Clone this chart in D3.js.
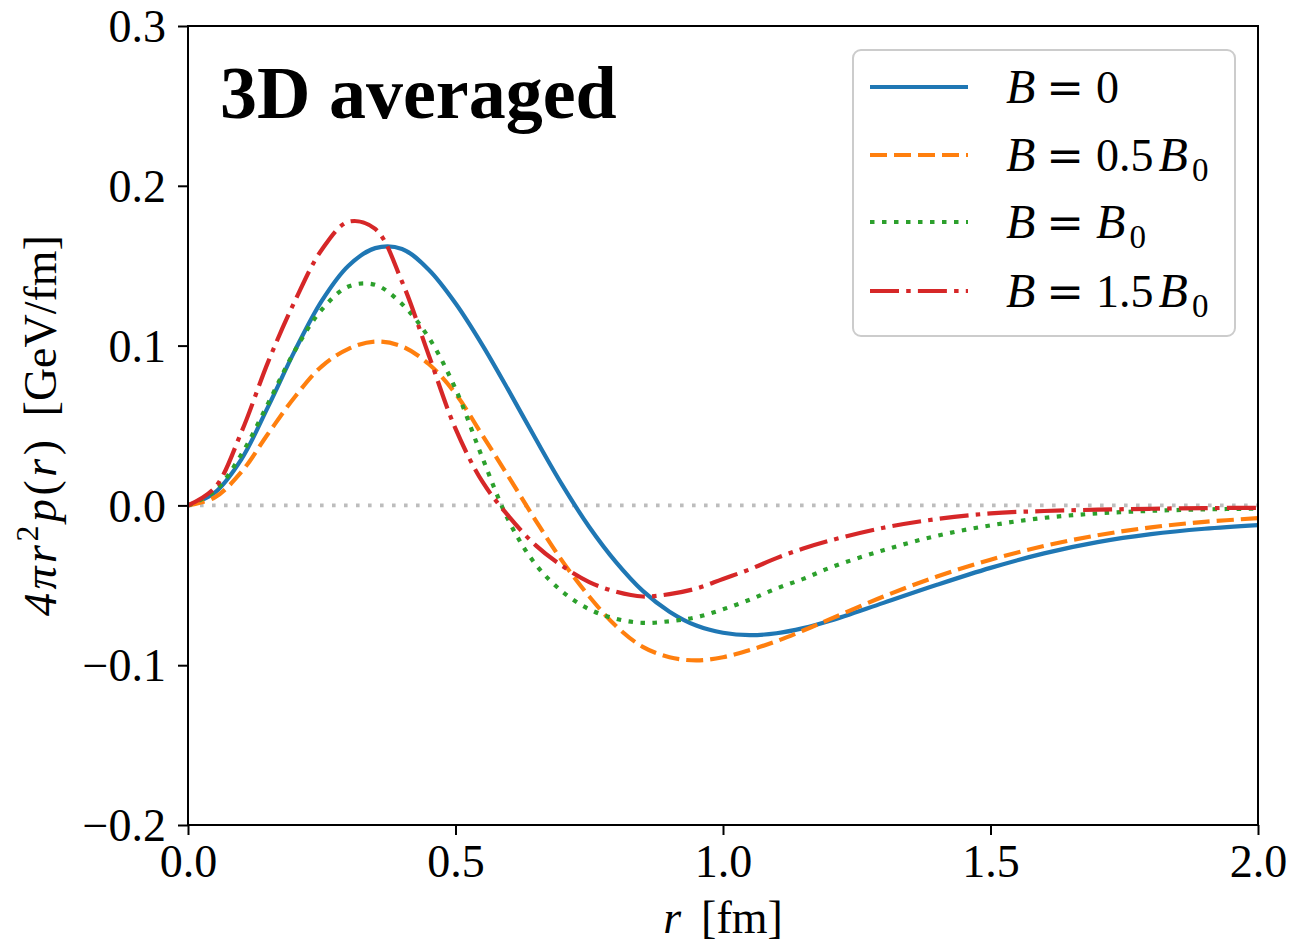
<!DOCTYPE html>
<html>
<head>
<meta charset="utf-8">
<script src="https://cdn.jsdelivr.net/npm/d3@7"></script>
<style>
  body { margin: 0; background: white; }
  text { font-family: "Liberation Serif", "DejaVu Serif", serif; }
</style>
</head>
<body>
<script>
// radius grid (fm)
const rGrid = [0, 0.05, 0.1, 0.15, 0.2, 0.25, 0.3, 0.35, 0.4, 0.45, 0.5, 0.55, 0.6, 0.65, 0.7,
  0.75, 0.8, 0.85, 0.9, 0.95, 1.0, 1.05, 1.1, 1.15, 1.2, 1.3, 1.4, 1.5, 1.6, 1.7, 1.8, 1.9, 2.0];

// 4 pi r^2 p(r) [GeV/fm]
const pB0 = [0, 0.008, 0.029, 0.062, 0.097, 0.128, 0.150, 0.161, 0.1605, 0.1475, 0.1265, 0.1005, 0.0715,
  0.0415, 0.0125, -0.0135, -0.0355, -0.0535, -0.0665, -0.0752, -0.0797, -0.0812, -0.0800, -0.0768, -0.0722,
  -0.0610, -0.0497, -0.0391, -0.0300, -0.0230, -0.0180, -0.0146, -0.0123];
const pB05 = [0, 0.005, 0.021, 0.045, 0.068, 0.087, 0.098, 0.1025, 0.0995, 0.0885, 0.070, 0.044, 0.0175,
  -0.0095, -0.035, -0.057, -0.0755, -0.0885, -0.0950, -0.0970, -0.0950, -0.0905, -0.0850, -0.0783, -0.0712,
  -0.0570, -0.0445, -0.0340, -0.0254, -0.0187, -0.0137, -0.0103, -0.0080];
const pB1 = [0, 0.009, 0.032, 0.064, 0.097, 0.1225, 0.137, 0.138, 0.126, 0.105, 0.073, 0.030, -0.010,
  -0.037, -0.054, -0.065, -0.071, -0.0735, -0.0725, -0.070, -0.065, -0.059, -0.052, -0.046, -0.039,
  -0.028, -0.019, -0.0125, -0.0078, -0.0050, -0.0034, -0.0025, -0.0020];
const pB15 = [0, 0.011, 0.046, 0.090, 0.128, 0.160, 0.1775, 0.173, 0.140, 0.094, 0.048, 0.015, -0.007,
  -0.025, -0.038, -0.048, -0.054, -0.057, -0.0555, -0.052, -0.046, -0.040, -0.033, -0.027, -0.022,
  -0.014, -0.0085, -0.0050, -0.0035, -0.0027, -0.0021, -0.0017, -0.0015];

const xTicks = [0, 0.5, 1.0, 1.5, 2.0];
const yTicks = [-0.2, -0.1, 0.0, 0.1, 0.2, 0.3];

const series = [
  { vals: pB0, color: '#1f77b4', dash: null, label: ['0'] },
  { vals: pB05, color: '#ff7f0e', dash: '17,7', label: ['0.5', 'B', '0'] },
  { vals: pB1, color: '#2ca02c', dash: '4.5,7.5', label: ['', 'B', '0'] },
  { vals: pB15, color: '#d62728', dash: '29,7.2,4.5,7.2', label: ['1.5', 'B', '0'] }
];

const width = 1292;
const height = 945;
const margin = { top: 26, right: 34, bottom: 120, left: 188 };

const svg = d3.select('body')
  .append('svg')
  .attr('width', width)
  .attr('height', height);

const x = d3.scaleLinear()
  .domain([0, 2])
  .range([margin.left, width - margin.right]);

const y = d3.scaleLinear()
  .domain([-0.2, 0.3])
  .range([height - margin.bottom, margin.top]);

// zero reference line
svg.append('line')
  .attr('x1', x(0))
  .attr('x2', x(2))
  .attr('y1', y(0))
  .attr('y2', y(0))
  .attr('stroke', '#bdbdbd')
  .attr('stroke-width', 3.6)
  .attr('stroke-dasharray', '3.6,8.4');

svg.append('clipPath')
  .attr('id', 'clip')
  .append('rect')
  .attr('x', x(0))
  .attr('y', y(0.3))
  .attr('width', x(2) - x(0))
  .attr('height', y(-0.2) - y(0.3));

const line = d3.line()
  .x((d, i) => x(rGrid[i]))
  .y((d) => y(d))
  .curve(d3.curveCatmullRom.alpha(0.5));

const lines = svg.append('g').attr('clip-path', 'url(#clip)');

series.forEach((s) => {
  lines.append('path')
    .datum(s.vals)
    .attr('d', line)
    .attr('fill', 'none')
    .attr('stroke', s.color)
    .attr('stroke-width', 4.2)
    .attr('stroke-dasharray', s.dash)
    .attr('stroke-linejoin', 'round');
});

// axes
const xAxis = svg.append('g')
  .attr('transform', `translate(0, ${y(-0.2)})`)
  .call(d3.axisBottom(x).tickValues(xTicks).tickFormat(d3.format('.1f')).tickSizeInner(10).tickSizeOuter(0).tickPadding(10));

const yAxis = svg.append('g')
  .attr('transform', `translate(${x(0)}, 0)`)
  .call(d3.axisLeft(y).tickValues(yTicks).tickFormat((d) => d3.format('.1f')(d).replace('-', '\u2212')).tickSizeInner(10).tickSizeOuter(0).tickPadding(12));

[xAxis, yAxis].forEach((g) => {
  g.selectAll('text')
    .attr('font-size', 46)
    .attr('font-family', '"Liberation Serif", serif')
    .attr('fill', 'black');
  g.selectAll('line')
    .attr('stroke', 'black')
    .attr('stroke-width', 2);
  g.select('.domain').remove();
});

xAxis.selectAll('text').attr('dy', '0.7em');
yAxis.selectAll('text').attr('dy', '0.34em');

// frame
svg.append('rect')
  .attr('x', x(0))
  .attr('y', y(0.3))
  .attr('width', x(2) - x(0))
  .attr('height', y(-0.2) - y(0.3))
  .attr('fill', 'none')
  .attr('stroke', 'black')
  .attr('stroke-width', 2);

// title
svg.append('text')
  .attr('x', 220)
  .attr('y', 118)
  .attr('font-size', 74)
  .attr('font-weight', 'bold')
  .text('3D averaged');

// x label
const xLab = svg.append('text')
  .attr('x', (x(0) + x(2)) / 2)
  .attr('y', 933)
  .attr('font-size', 46)
  .style('text-anchor', 'middle');
xLab.append('tspan').attr('font-style', 'italic').text('r');
xLab.append('tspan').attr('dx', 20).text('[fm]');

// y label
const yLab = svg.append('text')
  .attr('transform', `translate(56, ${(y(0.3) + y(-0.2)) / 2}) rotate(-90)`)
  .attr('font-size', 46)
  .style('text-anchor', 'middle');
const math = yLab.append('tspan').attr('letter-spacing', 3.5);
math.append('tspan').attr('font-style', 'italic').text('4πr');
math.append('tspan').attr('font-size', 32).attr('dy', -18).text('2');
math.append('tspan').attr('font-style', 'italic').attr('dy', 18).text('p');
math.append('tspan').text('(');
math.append('tspan').attr('font-style', 'italic').text('r');
math.append('tspan').text(')');
yLab.append('tspan').attr('dx', 20).text('[GeV/fm]');

// legend
const legend = svg.append('g');

legend.append('rect')
  .attr('x', 853)
  .attr('y', 50)
  .attr('width', 382)
  .attr('height', 286)
  .attr('rx', 8)
  .attr('fill', 'white')
  .attr('fill-opacity', 0.8)
  .attr('stroke', '#cccccc')
  .attr('stroke-width', 2);

const rowY = [87, 155, 222, 291];

series.forEach((s, i) => {
  legend.append('line')
    .attr('x1', 870)
    .attr('x2', 968)
    .attr('y1', rowY[i])
    .attr('y2', rowY[i])
    .attr('stroke', s.color)
    .attr('stroke-width', 4.2)
    .attr('stroke-dasharray', s.dash);

  const t = legend.append('text')
    .attr('x', 1006)
    .attr('y', rowY[i] + 16)
    .attr('font-size', 46);
  t.append('tspan').attr('font-style', 'italic').attr('font-size', 48).text('B');
  t.append('tspan').attr('dx', 11).attr('font-family', '"DejaVu Serif", serif').attr('font-size', 45).text('=');
  if (s.label.length === 1) {
    t.append('tspan').attr('dx', 12).text(s.label[0]);
  } else {
    if (s.label[0]) {
      t.append('tspan').attr('dx', 12).text(s.label[0]);
      t.append('tspan').attr('dx', 5).attr('font-style', 'italic').attr('font-size', 48).text(s.label[1]);
    } else {
      t.append('tspan').attr('dx', 12).attr('font-style', 'italic').attr('font-size', 48).text(s.label[1]);
    }
    t.append('tspan').attr('dx', 4).attr('font-size', 33).attr('dy', 10).text(s.label[2]);
  }
});
</script>
</body>
</html>
